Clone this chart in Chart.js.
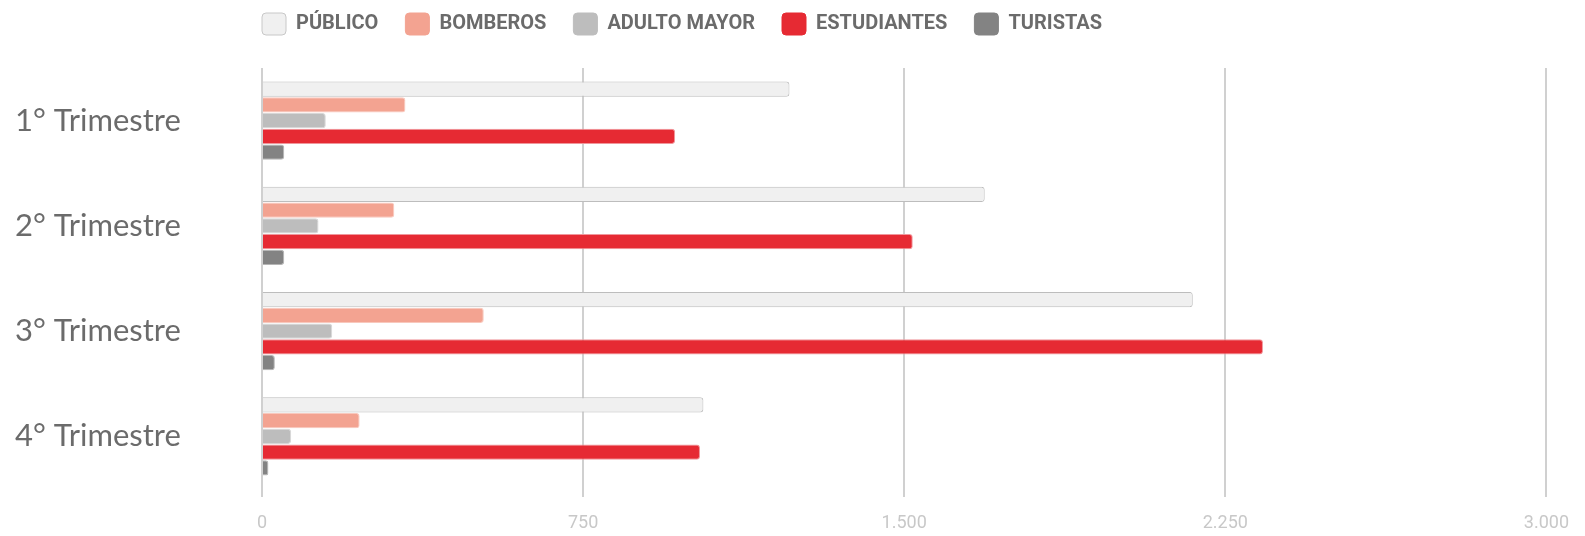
<!DOCTYPE html>
<html>
<head>
<meta charset="utf-8">
<script src="https://cdn.jsdelivr.net/npm/chart.js@4/dist/chart.umd.min.js"></script>
<style>
  html, body { margin: 0; padding: 0; background: #fff; }
  #wrap { width: 1585px; height: 536px; position: relative; }
</style>
</head>
<body>
<div id="wrap"><canvas id="myChart"></canvas></div>
<script>
// datos
const trimestres = ['1° Trimestre', '2° Trimestre', '3° Trimestre', '4° Trimestre'];
const publico = [1232, 1688, 2174, 1031];
const bomberos = [335, 309, 518, 228];
const adultoMayor = [149, 132, 164, 68];
const estudiantes = [965, 1520, 2338, 1023];
const turistas = [52, 52, 30, 15];
const ejeX = [0, 750, 1500, 2250, 3000];

function serie(label, data, fondo, borde) {
  return {
    label: label,
    data: data,
    backgroundColor: fondo,
    borderColor: borde,
    borderWidth: 1,
    borderRadius: 3,
    borderSkipped: 'start'
  };
}

// mover la leyenda al borde izquierdo del area del grafico
const moverLeyenda = {
  id: 'moverLeyenda',
  beforeDraw(chart) {
    const pad = chart.legend.options.labels.padding;
    chart.legend.left = chart.chartArea.left - pad;
    chart.legend.top = 13 - pad;
  }
};

const ctx = document.getElementById('myChart').getContext('2d');

new Chart(ctx, {
  type: 'bar',
  data: {
    labels: trimestres,
    datasets: [
      serie('PÚBLICO', publico, '#f0f0f0', '#bdbdbd'),
      serie('BOMBEROS', bomberos, '#f3a391', 'rgba(243, 163, 145, 0.6)'),
      serie('ADULTO MAYOR', adultoMayor, '#bdbdbd', 'rgba(189, 189, 189, 0.6)'),
      serie('ESTUDIANTES', estudiantes, '#e62a33', 'rgba(240, 150, 155, 1)'),
      serie('TURISTAS', turistas, '#838383', 'rgba(131, 131, 131, 0.6)')
    ]
  },
  options: {
    indexAxis: 'y',
    responsive: true,
    maintainAspectRatio: false,
    animation: false,
    categoryPercentage: 0.75,
    barPercentage: 0.97,
    layout: { padding: { left: 15, right: 37, top: 9, bottom: 0 } },
    plugins: {
      tooltip: { enabled: false },
      legend: {
        position: 'top',
        align: 'start',
        fullSize: false,
        labels: {
          boxWidth: 24,
          boxHeight: 22,
          padding: 27,
          color: '#6b6b6b',
          font: { family: 'Roboto, sans-serif', size: 20, weight: 'bold' },
          generateLabels(chart) {
            return chart.data.datasets.map((ds, i) => ({
              text: ds.label,
              fillStyle: ds.backgroundColor,
              strokeStyle: ds.label === 'PÚBLICO' ? '#c8c8c8' : ds.backgroundColor,
              lineWidth: 1,
              borderRadius: 4,
              fontColor: '#6b6b6b',
              datasetIndex: i
            }));
          }
        }
      }
    },
    scales: {
      x: {
        min: 0,
        max: 3000,
        afterBuildTicks(scale) {
          scale.ticks = ejeX.map(v => ({ value: v }));
        },
        afterFit(scale) { scale.height = 47; },
        grid: {
          color: '#d0d0d0',
          lineWidth: 2,
          tickLength: 8,
          tickColor: '#d0d0d0'
        },
        border: { display: false },
        ticks: {
          padding: 16,
          color: '#c8c8c8',
          font: { family: 'Roboto, sans-serif', size: 18 },
          callback: v => String(v).replace(/\B(?=(\d{3})+(?!\d))/g, '.')
        }
      },
      y: {
        afterFit(scale) { scale.width = 247; },
        grid: { display: false },
        border: { display: false },
        ticks: {
          crossAlign: 'far',
          color: '#6b6b6b',
          font: { family: 'Lato, "Noto Sans", sans-serif', size: 31 }
        }
      }
    }
  },
  plugins: [moverLeyenda]
});
</script>
</body>
</html>
